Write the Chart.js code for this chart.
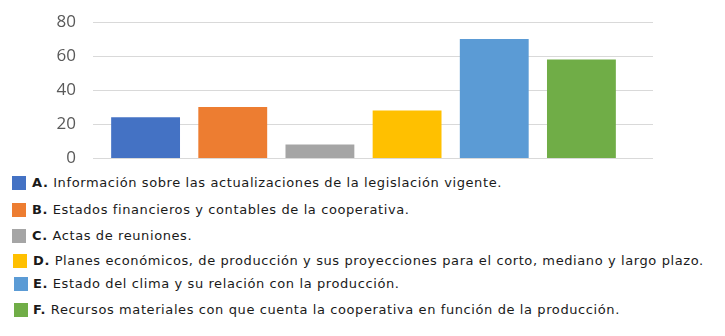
<!DOCTYPE html>
<html>
<head>
<meta charset="utf-8">
<script src="https://cdn.jsdelivr.net/npm/chart.js@4/dist/chart.umd.min.js"></script>
<style>
  html, body { margin: 0; padding: 0; background: #fff; }
  #wrap { position: relative; width: 725px; height: 336px; overflow: hidden; }
  #chart { position: absolute; left: 0; top: 0; }
  .sq { position: absolute; width: 14px; height: 14px; }
  .txt {
    position: absolute; white-space: nowrap;
    font-family: "DejaVu Sans", Verdana, sans-serif; font-size: 13px; line-height: 16px;
    letter-spacing: 0.6px;
    color: #1a1a1a;
  }
  .txt b { font-weight: bold; }
</style>
</head>
<body>
<div id="wrap">
  <canvas id="chart" width="725" height="170"></canvas>
</div>
<script>
const letters = ["A.", "B.", "C.", "D.", "E.", "F."]
const descriptions = [
  "Información sobre las actualizaciones de la legislación vigente.",
  "Estados financieros y contables de la cooperativa.",
  "Actas de reuniones.",
  "Planes económicos, de producción y sus proyecciones para el corto, mediano y largo plazo.",
  "Estado del clima y su relación con la producción.",
  "Recursos materiales con que cuenta la cooperativa en función de la producción."
]
const values = [24, 30, 8, 28, 70, 58]
const yTicks = [0, 20, 40, 60, 80]
const colors = ["#4472C4", "#ED7D31", "#A5A5A5", "#FFC000", "#5B9BD5", "#70AD47"]

// legend placement (vertical centres and square x offsets as seen in the picture)
const rowCentres = [183, 210, 236, 261, 284, 310]
const squareX = [12, 12, 12, 13, 14, 14]
const textX = [32, 32, 32, 33, 33, 33]

const wrap = document.getElementById("wrap")
letters.forEach((l, i) => {
  const sq = document.createElement("div")
  sq.className = "sq"
  sq.style.left = squareX[i] + "px"
  sq.style.top = (rowCentres[i] - 7) + "px"
  sq.style.background = colors[i]
  wrap.appendChild(sq)

  const t = document.createElement("div")
  t.className = "txt"
  t.style.left = textX[i] + "px"
  t.style.top = (rowCentres[i] - 8) + "px"
  t.innerHTML = "<b>" + l + "</b> " + descriptions[i]
  wrap.appendChild(t)
})

// gridlines in the original run a bit past the bars on both sides
const wideGrid = {
  id: "wideGrid",
  beforeDatasetsDraw(chart) {
    const ctx = chart.ctx
    const y = chart.scales.y
    ctx.save()
    ctx.strokeStyle = "#d9d9d9"
    ctx.lineWidth = 1
    yTicks.forEach((v) => {
      const py = Math.round(y.getPixelForValue(v)) + 0.5
      ctx.beginPath()
      ctx.moveTo(93, py)
      ctx.lineTo(653, py)
      ctx.stroke()
    })
    ctx.restore()
  }
}

new Chart(document.getElementById("chart").getContext("2d"), {
  type: "bar",
  data: {
    labels: letters,
    datasets: [{
      data: values,
      backgroundColor: colors,
      borderWidth: 0,
      barPercentage: 0.79,
      categoryPercentage: 1
    }]
  },
  options: {
    responsive: false,
    animation: false,
    layout: { padding: { top: 22, right: 100, bottom: 12, left: 0 } },
    plugins: { legend: { display: false }, tooltip: { enabled: false } },
    scales: {
      x: { display: false },
      y: {
        min: 0,
        max: 80,
        afterFit: (s) => {
          s.width = 102
          s.paddingTop = 0
          s.paddingBottom = 0
        },
        afterBuildTicks: (s) => { s.ticks = yTicks.map((v) => ({ value: v })) },
        grid: { display: false, drawTicks: false },
        border: { display: false },
        ticks: {
          padding: 26,
          color: "#595959",
          font: { family: "'Open Sans', sans-serif", size: 17 }
        }
      }
    }
  },
  plugins: [wideGrid]
})
</script>
</body>
</html>
